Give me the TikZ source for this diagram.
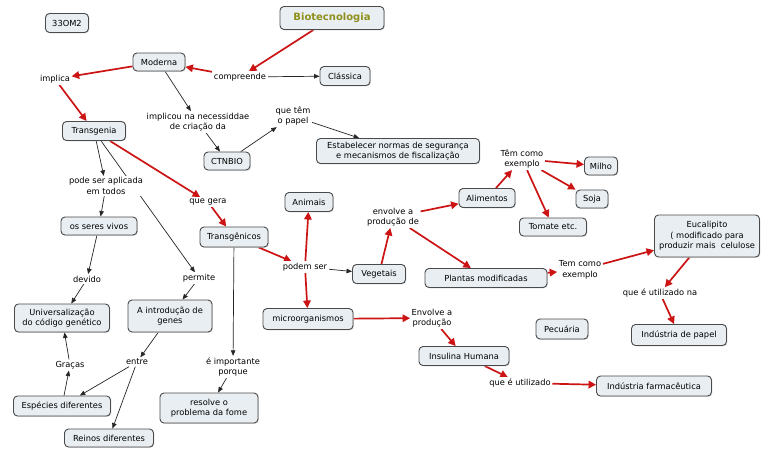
\documentclass[tikz,border=0pt]{standalone}
\usepackage{fontspec}
\setmainfont{DejaVu Sans}
\usetikzlibrary{arrows.meta,shadows}
\definecolor{boxfill}{HTML}{E8EEF2}
\definecolor{boxline}{HTML}{4A4A4A}
\definecolor{arrred}{HTML}{CC1414}
\definecolor{olivetitle}{HTML}{8F8F1C}
\pgfdeclarelayer{back}
\pgfdeclarelayer{bg}
\pgfsetlayers{back,bg,main}
\tikzset{
  box/.style={draw=boxline, fill=boxfill, rounded corners=4pt, line width=0.9pt,
    inner xsep=3pt, inner ysep=2pt, align=center,
    font=\fontsize{8.3}{10.5}\selectfont,
    drop shadow={shadow xshift=0.8pt, shadow yshift=-0.8pt, fill=black!25, opacity=0.6}},
  lab/.style={inner sep=1.5pt, align=center, fill=white, font=\fontsize{8.3}{10.5}\selectfont},
  redarr/.style={draw=arrred, line width=1.7pt, -{Triangle[length=7.5pt,width=7.5pt]}},
  blkarr/.style={draw=black!85, line width=0.7pt, -{Triangle[length=5.5pt,width=4.5pt]}}
}
\begin{document}
\begin{tikzpicture}[x=1pt,y=-1pt]
\begin{pgfonlayer}{back}
\path[use as bounding box, fill=white] (0,0) rectangle (762,448);
\end{pgfonlayer}

% boxes
\node[box, minimum width=43, minimum height=19] (m2) at (67,23) {33OM2};
\node[box, minimum width=104, minimum height=23, font=\fontsize{10}{12}\selectfont\bfseries, text=olivetitle] (bio) at (332,18) {Biotecnologia};
\node[box, minimum width=52, minimum height=18] (mod) at (159,62) {Moderna};
\node[box, minimum width=50, minimum height=19] (cla) at (345,76) {Clássica};
\node[box, minimum width=63, minimum height=19] (tra) at (94,131) {Transgenia};
\node[box, minimum width=46, minimum height=18] (ctn) at (227,161) {CTNBIO};
\node[box, minimum width=163, minimum height=25] (est) at (398,151) {Estabelecer normas de segurança\\e mecanismos de fiscalização};
\node[box, minimum width=76, minimum height=18] (osv) at (99,226) {os seres vivos};
\node[box, minimum width=68, minimum height=20] (trs) at (234,237) {Transgênicos};
\node[box, minimum width=48, minimum height=19] (ani) at (309,202) {Animais};
\node[box, minimum width=53, minimum height=19] (veg) at (379,274) {Vegetais};
\node[box, minimum width=56, minimum height=19] (ali) at (487,198) {Alimentos};
\node[box, minimum width=122, minimum height=19] (pla) at (486,278) {Plantas modificadas};
\node[box, minimum width=33, minimum height=18] (mil) at (601,166) {Milho};
\node[box, minimum width=32, minimum height=18] (soj) at (592,199) {Soja};
\node[box, minimum width=67, minimum height=18] (tom) at (553,227) {Tomate etc.};
\node[box, minimum width=105, minimum height=42] (euc) at (707,236) {Eucalipito\\( modificado para\\produzir mais~ celulose};
\node[box, minimum width=95, minimum height=21] (pap) at (679,335) {Indústria de papel};
\node[box, minimum width=52, minimum height=20] (pec) at (562,329) {Pecuária};
\node[box, minimum width=90, minimum height=21] (mic) at (308,319) {microorganismos};
\node[box, minimum width=90, minimum height=19] (ins) at (464,356) {Insulina Humana};
\node[box, minimum width=115, minimum height=20] (far) at (654,386) {Indústria farmacêutica};
\node[box, minimum width=95, minimum height=28] (uni) at (62,318) {Universalização\\do código genético};
\node[box, minimum width=84, minimum height=32] (int) at (170,316) {A introdução de\\genes};
\node[box, minimum width=97, minimum height=20] (esp) at (62,406) {Espécies diferentes};
\node[box, minimum width=89, minimum height=18] (rei) at (109,438) {Reinos diferentes};
\node[box, minimum width=98, minimum height=30] (res) at (209,408) {resolve o\\problema da fome};

% linking phrases
\node[lab] (imp) at (55,79) {implica};
\node[lab] (com) at (240,77) {compreende};
\node[lab] (icr) at (198,122) {implicou na necessiddae\\de criação da};
\node[lab] (qtp) at (293,116) {que têm\\o papel};
\node[lab] (psa) at (106,186) {pode ser aplicada\\em todos};
\node[lab] (dev) at (87,279) {devido};
\node[lab] (per) at (199,278) {permite};
\node[lab] (qge) at (208,202) {que gera};
\node[lab] (pse) at (305,267) {podem ser};
\node[lab] (epd) at (393,217) {envolve a\\produção de};
\node[lab] (tce1) at (522,159) {Têm como\\exemplo};
\node[lab] (tce2) at (580,270) {Tem como\\exemplo};
\node[lab] (qun) at (660,293) {que é utilizado na};
\node[lab] (epr) at (432,318) {Envolve a\\produção};
\node[lab] (qut) at (520,383) {que é utilizado};
\node[lab] (ent) at (137,362) {entre};
\node[lab] (gra) at (70,365) {Graças};
\node[lab] (eip) at (233,367) {é importante\\porque};

\begin{pgfonlayer}{bg}
% red connectors
\draw[redarr] (bio) -- (com);
\draw[redarr] (com) -- (mod);
\draw[redarr] (mod) -- (imp);
\draw[redarr] (imp) -- (tra);
\draw[redarr] (tra) -- (qge);
\draw[redarr] (qge) -- (trs);
\draw[redarr] (trs) -- (pse);
\draw[redarr] (pse) -- (ani);
\draw[redarr] (pse) -- (mic);
\draw[redarr] (veg) -- (epd);
\draw[redarr] (epd) -- (ali);
\draw[redarr] (epd) -- (pla);
\draw[redarr] (ali) -- (tce1);
\draw[redarr] (tce1) -- (mil);
\draw[redarr] (tce1) -- (soj);
\draw[redarr] (tce1) -- (tom);
\draw[redarr] (pla) -- (tce2);
\draw[redarr] (tce2) -- (euc);
\draw[redarr] (euc) -- (qun);
\draw[redarr] (qun) -- (pap);
\draw[redarr] (mic) -- (epr);
\draw[redarr] (epr) -- (ins);
\draw[redarr] (ins) -- (qut);
\draw[redarr] (qut) -- (far);
% black connectors
\draw[blkarr] (com) -- (cla);
\draw[blkarr] (mod) -- (icr);
\draw[blkarr] (icr) -- (ctn);
\draw[blkarr] (ctn) -- (qtp);
\draw[blkarr] (qtp) -- (est);
\draw[blkarr] (tra) -- (psa);
\draw[blkarr] (psa) -- (osv);
\draw[blkarr] (osv) -- (dev);
\draw[blkarr] (dev) -- (uni);
\draw[blkarr] (tra) -- (per);
\draw[blkarr] (per) -- (int);
\draw[blkarr] (int) -- (ent);
\draw[blkarr] (ent) -- (esp);
\draw[blkarr] (ent) -- (rei);
\draw[blkarr] (esp) -- (gra);
\draw[blkarr] (gra) -- (uni);
\draw[blkarr] (trs) -- (eip);
\draw[blkarr] (eip) -- (res);
\draw[blkarr] (pse) -- (veg);
\end{pgfonlayer}
\end{tikzpicture}
\end{document}
